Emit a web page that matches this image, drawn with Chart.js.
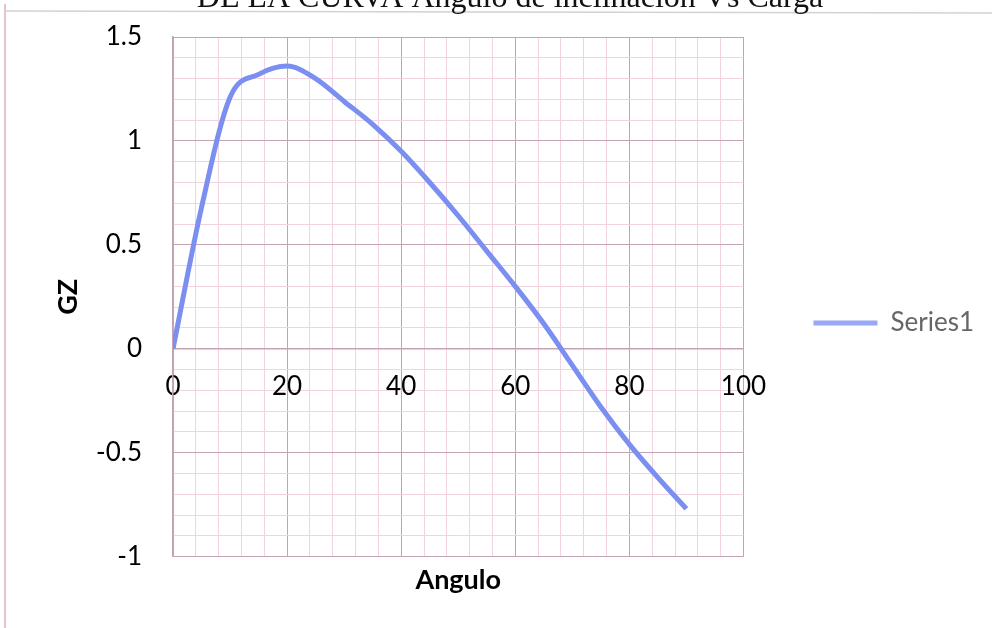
<!DOCTYPE html>
<html>
<head>
    <meta charset="utf-8">
    <title>Curva GZ</title>
    <script src="https://cdn.jsdelivr.net/npm/chart.js"></script>
    <style>
        html, body { margin: 0; padding: 0; background: #fff; }
    </style>
</head>
<body>
    <canvas id="gzChart" width="996" height="628"></canvas>

    <script>
        // Angulo de escora (grados) y brazo GZ
        const angulos = [0, 5, 10, 15, 20, 25, 30, 35, 40, 45, 50, 55, 60, 65, 70, 75, 80, 85, 90];
        const gz = [0, 0.68, 1.21, 1.32, 1.36, 1.30, 1.19, 1.08, 0.95, 0.80, 0.64, 0.47, 0.30, 0.12, -0.08, -0.28, -0.46, -0.62, -0.77];

        // Etiquetas que se muestran en los ejes
        const xTickLabels = [0, 20, 40, 60, 80, 100];
        const yTickLabels = [-1, -0.5, 0, 0.5, 1, 1.5];

        const seriesName = 'Series1';
        const tituloCortado = 'DE LA CURVA Angulo de inclinación Vs Carga';

        const majorGrid = '#c4a3b4';
        const minorGrid = '#f2d3e1';
        const lineColor = '#7b8ff0';
        const legendColor = '#98a8f6';
        const tickFont = { family: 'Lato', size: 26 };
        const boldFont = { family: 'Lato', size: 27, weight: 'bold' };

        // fondo, marco de la hoja escaneada y titulo cortado arriba
        const marcoHoja = {
            id: 'marcoHoja',
            beforeDraw(chart) {
                const c = chart.ctx;
                c.save();
                c.fillStyle = '#fff';
                c.fillRect(0, 0, chart.width, chart.height);
                c.strokeStyle = '#e4c4d4';
                c.lineWidth = 2;
                c.beginPath(); c.moveTo(5, 4); c.lineTo(5, chart.height); c.stroke();
                c.strokeStyle = '#d2d2d2';
                c.lineWidth = 1.5;
                c.beginPath(); c.moveTo(5, 11); c.lineTo(chart.width - 4, 13); c.stroke();
                c.font = '32px "Liberation Serif", serif';
                c.fillStyle = '#111';
                c.textAlign = 'center';
                c.textBaseline = 'alphabetic';
                c.fillText(tituloCortado, 510, 7);
                c.restore();
            }
        };

        const ctx = document.getElementById('gzChart').getContext('2d');
        const chart = new Chart(ctx, {
            type: 'line',
            data: {
                datasets: [{
                    label: seriesName,
                    data: angulos.map((a, i) => ({ x: a, y: gz[i] })),
                    borderColor: lineColor,
                    backgroundColor: legendColor,
                    borderWidth: 5,
                    pointRadius: 0,
                    tension: 0.4,
                    cubicInterpolationMode: 'monotone',
                    fill: false
                }]
            },
            options: {
                responsive: false,
                animation: false,
                devicePixelRatio: 1,
                events: [],
                layout: { padding: { left: 0, top: 37, right: 12, bottom: 30 } },
                plugins: {
                    tooltip: { enabled: false },
                    legend: {
                        position: 'right',
                        title: { display: true, text: ' ', font: { size: 1 }, padding: { top: 10, bottom: 0 } },
                        labels: {
                            padding: 70,
                            boxWidth: 64,
                            boxHeight: 5,
                            color: '#000',
                            font: { family: 'Lato', size: 26 },
                            generateLabels: (ch) => ch.data.datasets.map((ds, i) => ({
                                text: ds.label,
                                fillStyle: legendColor,
                                strokeStyle: legendColor,
                                lineWidth: 0,
                                hidden: false,
                                datasetIndex: i
                            }))
                        }
                    }
                },
                scales: {
                    x: {
                        type: 'linear',
                        min: 0,
                        max: 100,
                        position: { y: 0 },
                        ticks: {
                            stepSize: 4,
                            autoSkip: false,
                            maxRotation: 0,
                            padding: 22,
                            color: '#000',
                            font: tickFont,
                            callback: (v) => xTickLabels.includes(v) ? String(v) : ''
                        },
                        grid: {
                            drawTicks: false,
                            color: (c) => (c.tick && c.tick.value % 20 === 0) ? majorGrid : minorGrid
                        },
                        border: { color: majorGrid, width: 1.5 }
                    },
                    x2: {
                        type: 'linear',
                        position: 'bottom',
                        min: 0,
                        max: 100,
                        ticks: { display: false },
                        grid: { display: false, drawTicks: false },
                        border: { display: false },
                        title: {
                            display: true,
                            text: 'Angulo',
                            color: '#000',
                            font: boldFont,
                            padding: { top: 7, bottom: 2 }
                        }
                    },
                    y: {
                        type: 'linear',
                        min: -1,
                        max: 1.5,
                        position: 'left',
                        ticks: {
                            stepSize: 0.1,
                            autoSkip: false,
                            padding: 0,
                            color: '#000',
                            font: tickFont,
                            callback: (v) => {
                                const r = Math.round(v * 10) / 10;
                                return yTickLabels.includes(r) ? String(r) : '';
                            }
                        },
                        grid: {
                            drawTicks: true,
                            tickLength: 31,
                            tickColor: 'rgba(0,0,0,0)',
                            color: (c) => (c.tick && Math.round(c.tick.value * 10) % 5 === 0) ? majorGrid : minorGrid
                        },
                        border: { color: majorGrid, width: 1.5 },
                        title: {
                            display: true,
                            text: 'GZ',
                            color: '#000',
                            font: boldFont,
                            padding: { top: 52, bottom: 0 }
                        },
                        afterFit: (scale) => { scale.width = 173; }
                    }
                }
            },
            plugins: [marcoHoja]
        });
    </script>
</body>
</html>
